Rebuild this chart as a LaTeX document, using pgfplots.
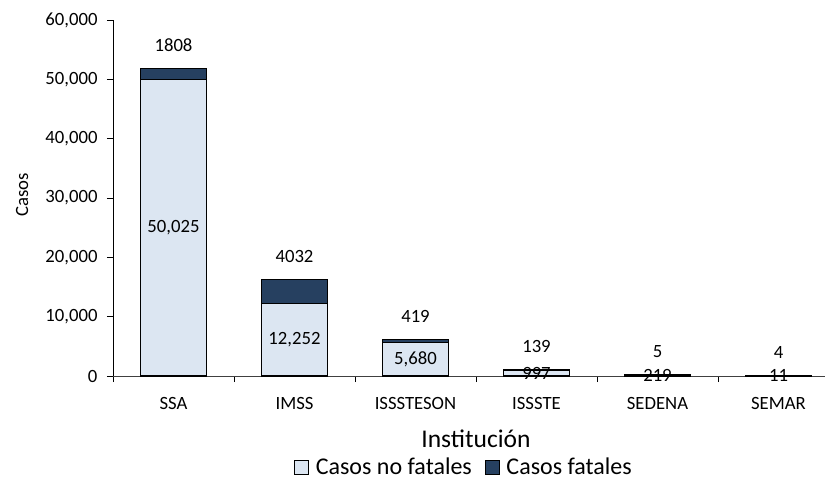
\documentclass[border=0pt]{standalone}
\usepackage{pgfplots}
\pgfplotsset{compat=1.18}
\usepackage{pgfplotstable}
\usepackage{fontspec}
\setmainfont{Carlito}
\definecolor{lightb}{RGB}{220,230,242}
\definecolor{darkb}{RGB}{38,64,96}
\newcommand\fsA{\fontsize{18.7}{22}\selectfont}
\newcommand\fsB{\fontsize{24}{28}\selectfont}
\newcommand\fsC{\fontsize{25.5}{30}\selectfont}
\pgfplotstableread{
x nf f
0 50025 1808
1 12252 4032
2 5680 419
3 997 139
4 219 5
5 11 4
}\data
\pgfplotstableread{
x y lab
0 25012.5 50,025
1 6126 12,252
2 2840 5,680
3 498.5 997
4 109.5 219
5 5.5 11
}\inlab
\pgfplotstableread{
x y lab
0 51833 1808
1 16284 4032
2 6099 419
3 1136 139
4 224 5
5 15 4
}\toplab
\pgfplotsset{common/.style={scale only axis, width=726pt, height=356pt,
  xmin=-0.5, xmax=5.5, ymin=0, ymax=60000}}
\begin{document}
\begin{tikzpicture}
\begin{axis}[name=ax, common, ybar stacked, bar width=66pt,
  axis x line*=bottom, axis y line*=left,
  x axis line style={draw=black!75},
  y axis line style={draw=black},
  tick align=outside, major tick length=6pt,
  xtick={-0.5,0.5,...,5.5}, xticklabels={},
  extra x ticks={0,1,2,3,4,5},
  extra x tick labels={SSA,IMSS,ISSSTESON,ISSSTE,SEDENA,SEMAR},
  extra x tick style={major tick length=0pt, tick style={draw=none},
     xticklabel style={anchor=center, yshift=-27pt}},
  ytick={0,10000,...,60000},
  scaled y ticks=false,
  /pgf/number format/fixed,
  /pgf/number format/1000 sep={,},
  /pgf/number format/assume math mode=true,
  yticklabel style={xshift=-6pt},
  tick label style={font=\fsA},
  tick style={black, line width=0.8pt},
  ylabel={Casos},
  ylabel style={font=\fsA, at={(axis description cs:-0.1253,0.508)}, anchor=center},
  xlabel={Institución},
  xlabel style={font=\fsC, at={(axis description cs:0.5,-0.177)}, anchor=center},
  legend style={draw=none, at={(axis description cs:0.4835,-0.2556)}, anchor=center,
    legend columns=2, font=\fsB, inner sep=0pt,
    /tikz/every odd column/.append style={column sep=5pt},
    /tikz/every even column/.append style={column sep=11pt}},
  legend image code/.code={\draw[#1, line width=0.6pt] (0pt,-7pt) rectangle (14pt,7pt);},
]
\addplot[fill=lightb, draw=black, line width=1.2pt] table[x=x,y=nf]{\data};
\addlegendentry{Casos no fatales}
\addplot[fill=darkb, draw=black, line width=1.2pt] table[x=x,y=f]{\data};
\addlegendentry{Casos fatales}
\end{axis}
\begin{axis}[common, hide axis, clip=false]
\addplot[only marks, mark=none, nodes near coords, point meta=explicit symbolic,
  nodes near coords style={font=\fsA, anchor=center}] table[x=x,y=y,meta=lab]{\inlab};
\addplot[only marks, mark=none, nodes near coords, point meta=explicit symbolic,
  nodes near coords style={font=\fsA, anchor=center, yshift=23pt}] table[x=x,y=y,meta=lab]{\toplab};
\end{axis}
\pgfresetboundingbox
\path ([shift={(-113pt,-106pt)}]ax.south west) rectangle ([shift={(712pt,376pt)}]ax.south west);
\end{tikzpicture}
\end{document}
